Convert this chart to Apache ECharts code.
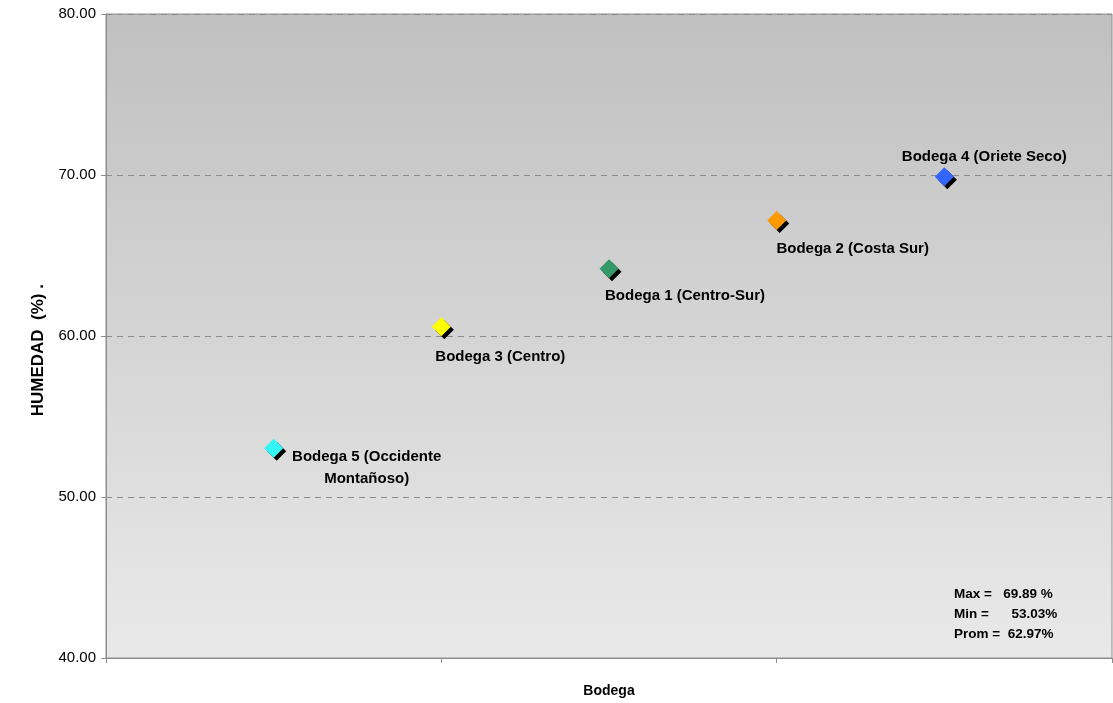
<!DOCTYPE html>
<html>
<head>
<meta charset="utf-8">
<script src="https://cdn.jsdelivr.net/npm/echarts@6/dist/echarts.min.js"></script>
<style>
  html, body { margin: 0; padding: 0; background: #fff; }
  #chart { width: 1113px; height: 703px; }
</style>
</head>
<body>
<div id="chart"></div>
<script>
// datos
var bodegas = ['Bodega 5 (Occidente\nMontañoso)', 'Bodega 3 (Centro)', 'Bodega 1 (Centro-Sur)', 'Bodega 2 (Costa Sur)', 'Bodega 4 (Oriete Seco)'];
var posicion = [1, 2, 3, 4, 5];
var humedad = [53.03, 60.58, 64.18, 67.17, 69.89];
var colores = ['#33f5f5', '#ffff00', '#339966', '#ff9900', '#3366ff'];

// donde va cada etiqueta respecto al punto
var etiquetaOffset = [[93, 20], [59, 30], [76, 27], [76, 28], [40, -20]];

var maxH = Math.max.apply(null, humedad);
var minH = Math.min.apply(null, humedad);
var prom = humedad.reduce(function (a, b) { return a + b; }, 0) / humedad.length;

var puntos = posicion.map(function (x, i) {
  return {
    name: bodegas[i],
    value: [x, humedad[i]],
    itemStyle: { color: colores[i] },
    label: { offset: etiquetaOffset[i] }
  };
});

var myChart = echarts.init(document.getElementById('chart'));
var option = {
  animation: false,
  textStyle: { fontFamily: 'Liberation Sans, Arial, sans-serif' },
  grid: {
    left: 106,
    right: 1,
    top: 14,
    bottom: 45,
    outerBoundsMode: 'none',
    show: true,
    borderColor: '#8c8c8c',
    borderWidth: 1,
    backgroundColor: new echarts.graphic.LinearGradient(0, 0, 0, 1, [
      { offset: 0, color: '#c0c0c0' },
      { offset: 1, color: '#e9e9e9' }
    ])
  },
  xAxis: {
    type: 'value',
    min: 0,
    max: 6,
    interval: 2,
    name: 'Bodega',
    nameLocation: 'middle',
    nameGap: 26,
    nameTextStyle: { color: '#000', fontWeight: 'bold', fontSize: 14 },
    axisLine: { lineStyle: { color: '#8c8c8c' } },
    axisTick: { show: true, length: 5, lineStyle: { color: '#8c8c8c' } },
    axisLabel: { show: false },
    splitLine: { show: false }
  },
  yAxis: {
    type: 'value',
    min: 40,
    max: 80,
    interval: 10,
    name: 'HUMEDAD  (%) .      ',
    nameLocation: 'middle',
    nameGap: 59,
    nameTextStyle: { color: '#000', fontWeight: 'bold', fontSize: 17 },
    axisLine: { show: true, lineStyle: { color: '#8c8c8c' } },
    axisTick: { show: true, length: 5, lineStyle: { color: '#8c8c8c' } },
    axisLabel: {
      color: '#000',
      fontSize: 15,
      margin: 10,
      formatter: function (v) { return v.toFixed(2); }
    },
    splitLine: {
      show: true,
      lineStyle: { color: '#8c8c8c', type: [6, 5] }
    }
  },
  series: [{
    type: 'scatter',
    symbol: 'diamond',
    symbolSize: 19,
    itemStyle: {
      opacity: 1,
      shadowColor: '#000',
      shadowBlur: 0,
      shadowOffsetX: 3,
      shadowOffsetY: 3
    },
    label: {
      show: true,
      position: 'inside',
      align: 'center',
      verticalAlign: 'middle',
      color: '#000',
      fontWeight: 'bold',
      fontSize: 15,
      lineHeight: 22,
      formatter: function (p) { return p.name; }
    },
    data: puntos
  }],
  graphic: [{
    type: 'text',
    left: 954,
    top: 584,
    style: {
      text: 'Max =   ' + maxH.toFixed(2) + ' %\nMin =      ' + minH.toFixed(2) + '%\nProm =  ' + prom.toFixed(2) + '%',
      fill: '#000',
      font: 'bold 13.5px Liberation Sans, Arial, sans-serif',
      lineHeight: 20
    }
  }]
};
myChart.setOption(option);
</script>
</body>
</html>
